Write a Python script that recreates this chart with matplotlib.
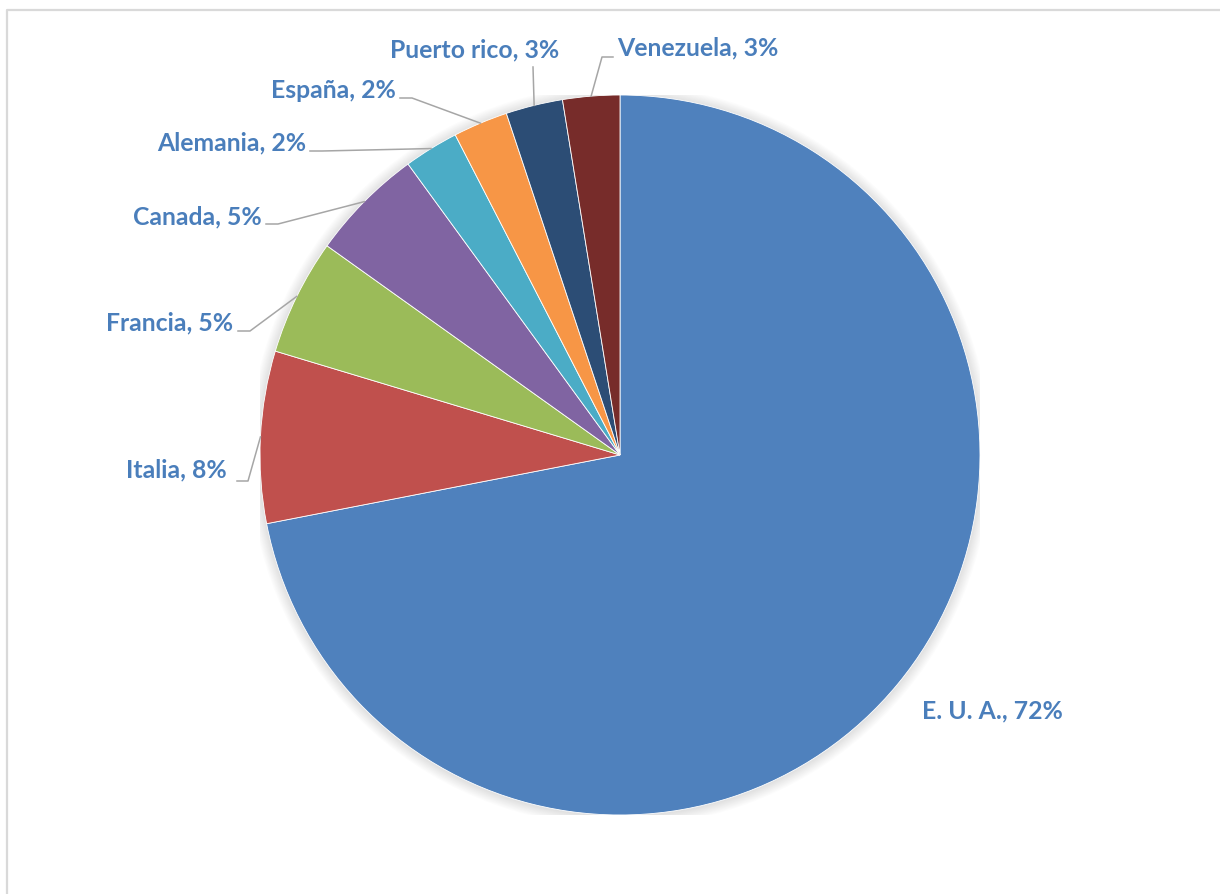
import matplotlib
matplotlib.use("Agg")
import matplotlib.pyplot as plt
from matplotlib.lines import Line2D
from matplotlib.patches import Circle
import numpy as np

# ---- data ----
countries = ["E. U. A.", "Italia", "Francia", "Canada", "Alemania", "España", "Puerto rico", "Venezuela"]
shares = [71.8, 7.7, 5.2, 5.1, 2.45, 2.45, 2.55, 2.55]
colors = ["#4F81BD", "#C0504D", "#9BBB59", "#8064A2", "#4BACC6", "#F79646", "#2C4D75", "#772C2A"]

# ---- label layout (pixels, origin top-left) ----
# (text x, text y, ha, leader points from text side toward the slice)
label_layout = [
    (922, 711, "left", []),
    (227, 470, "right", [(237, 481), (248, 481)]),
    (233, 323, "right", [(238, 331), (250, 331)]),
    (262, 217, "right", [(266, 224), (278, 224)]),
    (306, 143, "right", [(310, 151), (322, 151)]),
    (396, 91, "right", [(400, 98), (412, 98)]),
    (475, 50, "center", [(533, 67)]),
    (617, 48, "left", [(613, 57), (602, 57)]),
]

W, H = 1220, 894
fig = plt.figure(figsize=(W / 100, H / 100), dpi=100)
fig.patch.set_facecolor("white")

def px(x, y):
    return x / W, 1 - y / H

# chart border (top and left visible)
fig.add_artist(Line2D([7 / W, 7 / W, 1.01], [-0.01, 1 - 10 / H, 1 - 10 / H],
                      transform=fig.transFigure, color="#D9D9D9", lw=1.6))

cx, cy, R = 620, 455, 360
ax = fig.add_axes([(cx - R) / W, (H - cy - R) / H, 2 * R / W, 2 * R / H])

# soft shadow around the pie
for i in range(10):
    ax.add_patch(Circle((0.0, -0.002), 1.0 + 0.003 * (i + 1), color="black",
                        alpha=0.012, lw=0, zorder=0))

wedges, _ = ax.pie(shares, colors=colors, startangle=90, counterclock=False,
                   radius=1, wedgeprops=dict(edgecolor="white", linewidth=0.6, zorder=2))
ax.set_xlim(-1, 1)
ax.set_ylim(-1, 1)
ax.set_aspect("equal")
ax.axis("off")

total = sum(shares)
text_color = "#4A7EBB"
to_fig = ax.transData + fig.transFigure.inverted()
for w, name, v, (tx, ty, ha, leader) in zip(wedges, countries, shares, label_layout):
    pct = int(v / total * 100 + 0.5)
    fig.text(*px(tx, ty), f"{name}, {pct}%", ha=ha, va="center",
             fontsize=17.8, fontweight="bold", family=["Lato", "DejaVu Sans"],
             color=text_color)
    if leader:
        ang = np.deg2rad((w.theta1 + w.theta2) / 2)
        ex, ey = to_fig.transform((np.cos(ang), np.sin(ang)))
        xs = [px(x, y)[0] for x, y in leader] + [ex]
        ys = [px(x, y)[1] for x, y in leader] + [ey]
        fig.add_artist(Line2D(xs, ys, transform=fig.transFigure,
                              color="#A6A6A6", lw=1.1))

fig.savefig("out.png", dpi=100, facecolor="white")
